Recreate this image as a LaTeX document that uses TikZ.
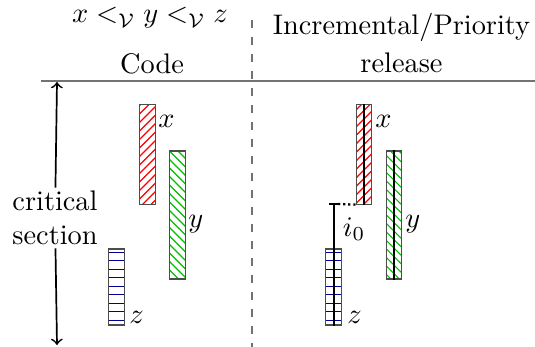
\documentclass[tikz,border=0pt]{standalone}
\usepackage{amsmath}
\usepackage{amssymb}
\usetikzlibrary{patterns,positioning}

\begin{document}
\begin{tikzpicture}[x=0.353pt, y=-0.353pt,
  blk/.style={draw=black!70, inner sep=0pt, minimum width=5.6pt},
  tx/.style={blk, pattern=north east lines, pattern color=red, minimum height=35pt},
  ty/.style={blk, pattern=north west lines, pattern color=green!75!black, minimum height=45.2pt},
  tz/.style={blk, pattern=horizontal lines, pattern color=blue!60!black, minimum height=26.8pt},
  lbl/.style={inner sep=1pt, anchor=west}]
\useasboundingbox (0,0) rectangle (535,347);

% headers
\node[anchor=base] (hcode) at (150,23) {$x <_{\mathcal{V}} y <_{\mathcal{V}} z$};
\node[anchor=base] (code) at (152,74) {Code};
\node[anchor=base] (hinc) at (401.5,35) {Incremental/Priority};
\node[anchor=base] (rel) at (401.5,73) {release};
\coordinate (hl) at (41,81);
\coordinate (hr) at (535,81);
\draw[black!55] (hl) -- (hr);
\coordinate (dt) at (252,20);
\coordinate (db) at (252,347);
\draw[black!55, dashed] (dt) -- (db);

% critical section
\coordinate (ct) at (57,82);
\coordinate (cb) at (57,345);
\node[fill=white, align=center, inner sep=1pt] (crit) at (55,218) {critical\\section};
\draw[semithick, ->] (crit) -- (ct);
\draw[semithick, ->] (crit) -- (cb);

% code side
\node[tx] (cx) at (147.3,154.5) {};
\node[ty] (cy) at (177.3,215) {};
\node[tz] (cz) at (116.7,287) {};
\node[lbl] (cxl) at (155,121) {$x$};
\node[lbl] (cyl) at (185,224) {$y$};
\node[lbl] (czl) at (126,317) {$z$};

% release side
\node[tx] (rx) at (364,154.5) {};
\node[ty] (ry) at (394,215) {};
\node[tz] (rz) at (333.7,287) {};
\node[lbl] (rxl) at (372,121) {$x$};
\node[lbl] (ryl) at (402,224) {$y$};
\node[lbl] (rzl) at (344,317) {$z$};
\draw[thick] (rx.north) -- (rx.south);
\draw[thick] (ry.north) -- (ry.south);

\coordinate (i0) at (333.7,204);
\coordinate (i0l) at (329,204);
\coordinate (i0r) at (338,204);
\draw[thick] (i0l) -- (i0r);
\draw[thick] (i0) -- (rz.south);
\draw[thick, densely dotted] (i0r) -- (rx.south west);
\node (li0) at (354,229) {$i_0$};

\end{tikzpicture}
\end{document}
